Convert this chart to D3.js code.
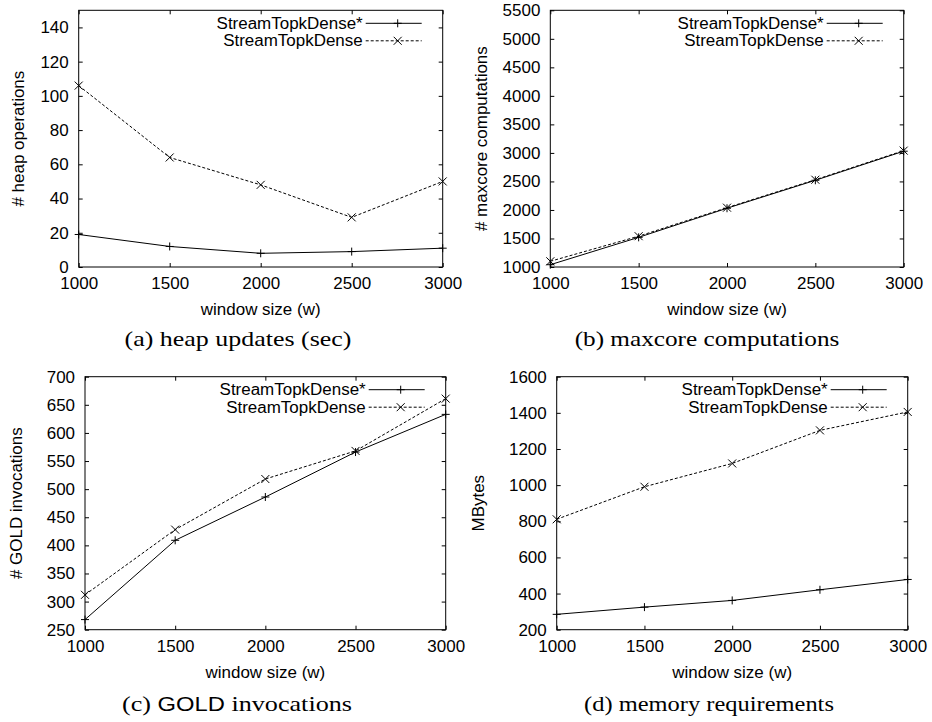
<!DOCTYPE html>
<html>
<head>
<meta charset="utf-8">
<script src="https://cdn.jsdelivr.net/npm/d3@7"></script>
<style>
  body { margin: 0; background: #fff; }
  svg { display: block; }
</style>
</head>
<body>
<svg id="chart" width="932" height="722"></svg>
<script>
// window sizes on the x axis (same for every panel)
var windowSizes = [1000, 1500, 2000, 2500, 3000];
var seriesNames = ["StreamTopkDense*", "StreamTopkDense"];

// (a) heap operations
var heapStar  = [19, 12, 8, 9, 11];
var heapDense = [106, 64, 48, 29, 50];
var heapTicks = [0, 20, 40, 60, 80, 100, 120, 140];

// (b) maxcore computations
var maxcoreStar  = [1040, 1520, 2030, 2520, 3030];
var maxcoreDense = [1100, 1540, 2040, 2530, 3040];
var maxcoreTicks = [1000, 1500, 2000, 2500, 3000, 3500, 4000, 4500, 5000, 5500];

// (c) GOLD invocations
var goldStar  = [268, 409, 486, 566, 633];
var goldDense = [312, 428, 518, 568, 661];
var goldTicks = [250, 300, 350, 400, 450, 500, 550, 600, 650, 700];

// (d) memory, MBytes
var memStar  = [285, 325, 362, 421, 478];
var memDense = [811, 991, 1120, 1303, 1405];
var memTicks = [200, 400, 600, 800, 1000, 1200, 1400, 1600];

var SANS = "'Liberation Sans', Arial, Helvetica, sans-serif";
var SERIF = "'Liberation Serif', 'Times New Roman', serif";
var FS = 16, WIDEN = 1.06;

var panels = [
  {star: heapStar, dense: heapDense, yDomain: [0, 150], yTicks: heapTicks,
   yLabel: "# heap operations", box: {l: 78.7, r: 442.7, t: 10.3, b: 267},
   caption: [["(a) heap updates (sec)", SERIF]], capX: 238, capW: 227, capY: 346},
  {star: maxcoreStar, dense: maxcoreDense, yDomain: [1000, 5500], yTicks: maxcoreTicks,
   yLabel: "# maxcore computations", box: {l: 550.3, r: 903.7, t: 10.3, b: 267},
   caption: [["(b) maxcore computations", SERIF]], capX: 707, capW: 265, capY: 346},
  {star: goldStar, dense: goldDense, yDomain: [250, 700], yTicks: goldTicks,
   yLabel: "# GOLD invocations", box: {l: 85, r: 445.7, t: 376.7, b: 629.7},
   caption: [["(c) ", SERIF], ["GOLD", SANS], [" invocations", SERIF]], capX: 237, capW: 230, capY: 711},
  {star: memStar, dense: memDense, yDomain: [200, 1600], yTicks: memTicks,
   yLabel: "MBytes", box: {l: 556.7, r: 907.7, t: 376.7, b: 629.7},
   caption: [["(d) memory requirements", SERIF]], capX: 709, capW: 250, capY: 711}
];
var yLabelOffset = [60, 68, 68, 78];

var svg = d3.select("#chart");

var plusPath = "M-4,0H4M0,-4V4";
var crossPath = "M-4,-4L4,4M-4,4L4,-4";

function widen(sel) {
  sel.each(function () {
    var w = this.getComputedTextLength();
    d3.select(this).attr("textLength", w * WIDEN).attr("lengthAdjust", "spacingAndGlyphs");
  });
}

function styleAxis(g) {
  g.attr("font-family", SANS).attr("font-size", FS);
  g.select(".domain").remove();
  g.selectAll(".tick line").attr("stroke", "#000").attr("stroke-width", 1);
  g.selectAll(".tick text").attr("fill", "#000");
}

panels.forEach(function (p, i) {
  var w = p.box.r - p.box.l, h = p.box.b - p.box.t;
  var x = d3.scaleLinear().domain([1000, 3000]).range([0, w]);
  var y = d3.scaleLinear().domain(p.yDomain).range([h, 0]);

  var g = svg.append("g").attr("transform", "translate(" + p.box.l + "," + p.box.t + ")");

  // ticks, mirrored on all four sides, pointing inward
  var left = g.append("g")
    .call(d3.axisLeft(y).tickValues(p.yTicks).tickSizeInner(-4).tickSizeOuter(0).tickPadding(10).tickFormat(d3.format("d")))
    .call(styleAxis);
  left.selectAll(".tick text").attr("dy", "0.34em").call(widen);

  g.append("g").attr("transform", "translate(" + w + ",0)")
    .call(d3.axisRight(y).tickValues(p.yTicks).tickSizeInner(-4).tickSizeOuter(0).tickFormat(""))
    .call(styleAxis);

  var bottom = g.append("g").attr("transform", "translate(0," + h + ")")
    .call(d3.axisBottom(x).tickValues(windowSizes).tickSizeInner(-4).tickSizeOuter(0).tickPadding(11).tickFormat(d3.format("d")))
    .call(styleAxis);
  bottom.selectAll(".tick text").call(widen);

  g.append("g")
    .call(d3.axisTop(x).tickValues(windowSizes).tickSizeInner(-4).tickSizeOuter(0).tickFormat(""))
    .call(styleAxis);

  // series
  var line = d3.line().x(function (d, j) { return x(windowSizes[j]); }).y(function (d) { return y(d); });

  g.append("path").datum(p.star).attr("d", line)
    .attr("fill", "none").attr("stroke", "#000").attr("stroke-width", 1);
  g.append("path").datum(p.dense).attr("d", line)
    .attr("fill", "none").attr("stroke", "#000").attr("stroke-width", 1).attr("stroke-dasharray", "3,2");

  g.selectAll(".mstar").data(p.star).enter().append("path")
    .attr("d", plusPath).attr("stroke", "#000").attr("fill", "none")
    .attr("transform", function (d, j) { return "translate(" + x(windowSizes[j]) + "," + y(d) + ")"; });
  g.selectAll(".mdense").data(p.dense).enter().append("path")
    .attr("d", crossPath).attr("stroke", "#000").attr("fill", "none")
    .attr("transform", function (d, j) { return "translate(" + x(windowSizes[j]) + "," + y(d) + ")"; });

  // frame
  g.append("rect").attr("width", w).attr("height", h)
    .attr("fill", "none").attr("stroke", "#000").attr("stroke-width", 1);

  // legend
  var legRows = [13, 30.5];
  seriesNames.forEach(function (name, k) {
    var ly = legRows[k];
    g.append("text").attr("x", w - 80).attr("y", ly).attr("dy", "0.35em")
      .attr("text-anchor", "end").attr("font-family", SANS).attr("font-size", FS)
      .text(name).call(widen);
    g.append("line").attr("x1", w - 77).attr("x2", w - 21).attr("y1", ly).attr("y2", ly)
      .attr("stroke", "#000").attr("stroke-width", 1)
      .attr("stroke-dasharray", k === 0 ? null : "3,2");
    g.append("path").attr("d", k === 0 ? plusPath : crossPath)
      .attr("stroke", "#000").attr("fill", "none")
      .attr("transform", "translate(" + (w - 45) + "," + ly + ")");
  });

  // axis labels
  g.append("text").attr("x", w / 2).attr("y", h + 48)
    .attr("text-anchor", "middle").attr("font-family", SANS).attr("font-size", FS)
    .text("window size (w)").call(widen);
  g.append("text")
    .attr("transform", "translate(" + (-yLabelOffset[i] + 5) + "," + (h / 2) + ") rotate(-90)")
    .attr("text-anchor", "middle").attr("font-family", SANS).attr("font-size", FS)
    .text(p.yLabel).call(widen);

  // caption
  var cap = svg.append("text").attr("x", 0).attr("y", 0)
    .attr("text-anchor", "middle").attr("font-family", SERIF).attr("font-size", 22);
  p.caption.forEach(function (part) {
    cap.append("tspan").attr("font-family", part[1]).attr("font-size", part[1] === SANS ? 20 : 22)
      .text(part[0]);
  });
  cap.style("white-space", "pre");
  var nat = cap.node().getBBox().width;
  cap.attr("transform", "translate(" + p.capX + "," + p.capY + ") scale(" + (p.capW / nat) + ",1)");
});
</script>
</body>
</html>
